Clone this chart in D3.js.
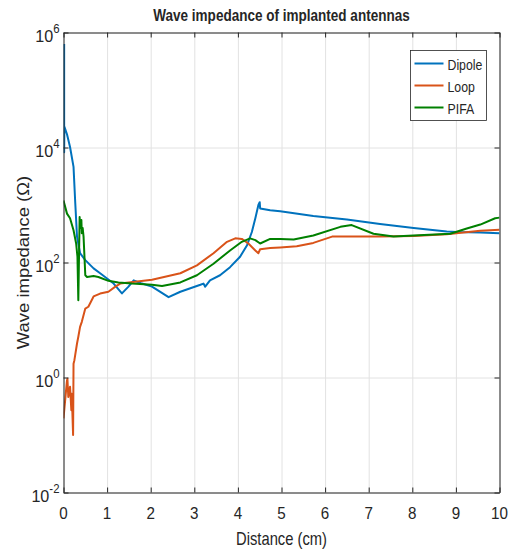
<!DOCTYPE html>
<html>
<head>
<meta charset="utf-8">
<script src="https://cdn.jsdelivr.net/npm/d3@7.9.0/dist/d3.min.js"></script>
<style>
  body { margin: 0; background: #fff; }
  svg { display: block; }
  text { font-family: "Liberation Sans", Arial, sans-serif; fill: #262626; }
</style>
</head>
<body>
<svg id="chart" width="512" height="551"></svg>
<script>
// values (distance in cm, impedance in ohm)
const dipoleX = [0.015, 0.015, 0.02, 0.08, 0.15, 0.23, 0.27, 0.31, 0.38, 0.50, 0.69, 0.84, 1.15, 1.34, 1.49, 1.61, 1.80, 2.03, 2.41, 2.68, 3.14, 3.21, 3.25, 3.36, 3.59, 3.82, 4.05, 4.21, 4.32, 4.40, 4.47, 4.50, 4.51, 4.74, 4.97, 5.73, 6.50, 7.26, 8.03, 8.79, 9.02, 9.56, 10];
const dipoleZ = [630000, 8300, 23000, 17000, 10200, 4600, 1070, 282, 145, 110, 79, 65, 43, 29, 38, 49, 43, 38, 25, 31, 41, 43, 38, 49, 60, 83, 126, 200, 339, 589, 1000, 1120, 871, 813, 776, 646, 562, 468, 398, 347, 339, 331, 324];

const loopX = [0, 0.08, 0.09, 0.11, 0.15, 0.18, 0.19, 0.22, 0.23, 0.25, 0.31, 0.34, 0.38, 0.42, 0.50, 0.57, 0.69, 0.84, 1.03, 1.19, 1.30, 2.03, 2.68, 3.06, 3.44, 3.75, 3.94, 4.09, 4.24, 4.40, 4.47, 4.51, 4.74, 4.97, 5.35, 5.73, 6.16, 7.26, 8.03, 8.79, 9.56, 10];
const loopZ = [0.195, 0.89, 0.95, 0.457, 0.69, 0.27, 0.52, 0.10, 1.74, 2.0, 3.9, 5.1, 7.6, 9.3, 15.8, 17, 25.7, 28.8, 31, 38, 43, 50, 65, 89, 145, 229, 263, 257, 214, 162, 145, 170, 178, 182, 191, 219, 282, 282, 288, 309, 355, 372];

const pifaX = [0, 0.08, 0.15, 0.23, 0.29, 0.32, 0.34, 0.37, 0.38, 0.41, 0.42, 0.44, 0.46, 0.50, 0.54, 0.69, 0.80, 1.03, 1.26, 1.57, 2.03, 2.26, 2.68, 3.06, 3.44, 3.82, 4.09, 4.28, 4.40, 4.51, 4.74, 4.97, 5.28, 5.73, 6.35, 6.61, 7.11, 7.57, 8.03, 8.87, 9.25, 9.56, 9.90, 10];
const pifaZ = [1200, 708, 589, 363, 214, 126, 22, 617, 398, 550, 324, 398, 282, 60, 56, 58, 56, 48, 45, 43, 41, 39, 45, 60, 95, 162, 229, 263, 245, 214, 257, 257, 251, 295, 417, 447, 316, 282, 295, 316, 389, 457, 589, 603];

const seriesNames = ['Dipole', 'Loop', 'PIFA'];
const xTicks = [0, 1, 2, 3, 4, 5, 6, 7, 8, 9, 10];
const yTickExps = [-2, 0, 2, 4, 6];

const series = [
  { name: seriesNames[0], color: '#0072BD', xs: dipoleX, zs: dipoleZ },
  { name: seriesNames[1], color: '#D95319', xs: loopX, zs: loopZ },
  { name: seriesNames[2], color: '#008000', xs: pifaX, zs: pifaZ },
];

const pL = 63.5, pR = 499.5, pT = 32.5, pB = 492.5;

const svg = d3.select('#chart');
const x = d3.scaleLinear().domain([0, 10]).range([pL, pR]);
const y = d3.scaleLog().domain([1e-2, 1e6]).range([pB, pT]);
const yTickVals = yTickExps.map(e => Math.pow(10, e));

// grid
svg.append('g')
  .attr('transform', `translate(0,${pB})`)
  .call(d3.axisBottom(x).tickValues(xTicks).tickSize(-(pB - pT)).tickFormat(''))
  .call(g => g.select('.domain').remove())
  .selectAll('line').attr('stroke', '#e2e2e2');
svg.append('g')
  .attr('transform', `translate(${pL},0)`)
  .call(d3.axisLeft(y).tickValues(yTickVals).tickSize(-(pR - pL)).tickFormat(''))
  .call(g => g.select('.domain').remove())
  .selectAll('line').attr('stroke', '#e2e2e2');

// lines
svg.append('clipPath').attr('id', 'clip')
  .append('rect').attr('x', pL).attr('y', pT).attr('width', pR - pL).attr('height', pB - pT);

const line = d3.line().x(d => x(d[0])).y(d => y(d[1]));
series.forEach(s => {
  svg.append('path')
    .datum(s.xs.map((v, i) => [v, s.zs[i]]))
    .attr('clip-path', 'url(#clip)')
    .attr('d', line)
    .attr('fill', 'none')
    .attr('stroke', s.color)
    .attr('stroke-width', 2)
    .attr('stroke-linejoin', 'round');
});

// box and inward ticks on all sides
const axisStyle = g => {
  g.selectAll('.domain').attr('stroke', '#262626');
  g.selectAll('.tick line').attr('stroke', '#262626');
};
svg.append('g').attr('transform', `translate(0,${pB})`)
  .call(d3.axisBottom(x).tickValues(xTicks).tickSizeInner(-5).tickSizeOuter(0).tickFormat('')).call(axisStyle);
svg.append('g').attr('transform', `translate(0,${pT})`)
  .call(d3.axisTop(x).tickValues(xTicks).tickSizeInner(-5).tickSizeOuter(0).tickFormat('')).call(axisStyle);
svg.append('g').attr('transform', `translate(${pL},0)`)
  .call(d3.axisLeft(y).tickValues(yTickVals).tickSizeInner(-5).tickSizeOuter(0).tickFormat('')).call(axisStyle);
svg.append('g').attr('transform', `translate(${pR},0)`)
  .call(d3.axisRight(y).tickValues(yTickVals).tickSizeInner(-5).tickSizeOuter(0).tickFormat('')).call(axisStyle);

// tick labels
svg.append('g').selectAll('text')
  .data(xTicks)
  .join('text')
  .attr('transform', d => `translate(${x(d)},518.5) scale(0.95,1)`)
  .attr('text-anchor', 'middle')
  .attr('font-size', 16)
  .text(d => d);

const yl = svg.append('g').selectAll('text')
  .data(yTickExps)
  .join('text')
  .attr('transform', e => `translate(59.5,${y(Math.pow(10, e)) + 9.5}) scale(0.95,1)`)
  .attr('text-anchor', 'end')
  .attr('font-size', 17);
yl.append('tspan').text('10');
yl.append('tspan').attr('font-size', 12).attr('dy', -9).text(e => e);

// title and axis labels
svg.append('text')
  .attr('transform', `translate(${(pL + pR) / 2},21) scale(0.82,1)`)
  .attr('text-anchor', 'middle')
  .attr('font-size', 16.5)
  .attr('font-weight', 'bold')
  .attr('fill', '#000')
  .text('Wave impedance of implanted antennas');

svg.append('text')
  .attr('transform', `translate(${(pL + pR) / 2},545) scale(0.82,1)`)
  .attr('text-anchor', 'middle')
  .attr('font-size', 18)
  .text('Distance (cm)');

svg.append('text')
  .attr('transform', `translate(28.5,${(pT + pB) / 2}) scale(0.88,1) rotate(-90)`)
  .attr('text-anchor', 'middle')
  .attr('font-size', 18.5)
  .text('Wave impedance (\u03A9)');

// legend
const lg = svg.append('g').attr('transform', 'translate(410.5,50.5)');
lg.append('rect').attr('width', 76).attr('height', 70)
  .attr('fill', '#fff').attr('stroke', '#262626').attr('stroke-width', 0.8);
series.forEach((s, i) => {
  const ly = 13 + i * 22;
  lg.append('line').attr('x1', 4).attr('x2', 33).attr('y1', ly).attr('y2', ly)
    .attr('stroke', s.color).attr('stroke-width', 2);
  lg.append('text')
    .attr('transform', `translate(37,${ly + 6}) scale(0.88,1)`)
    .attr('font-size', 14)
    .attr('fill', '#000')
    .text(s.name);
});
</script>
</body>
</html>
